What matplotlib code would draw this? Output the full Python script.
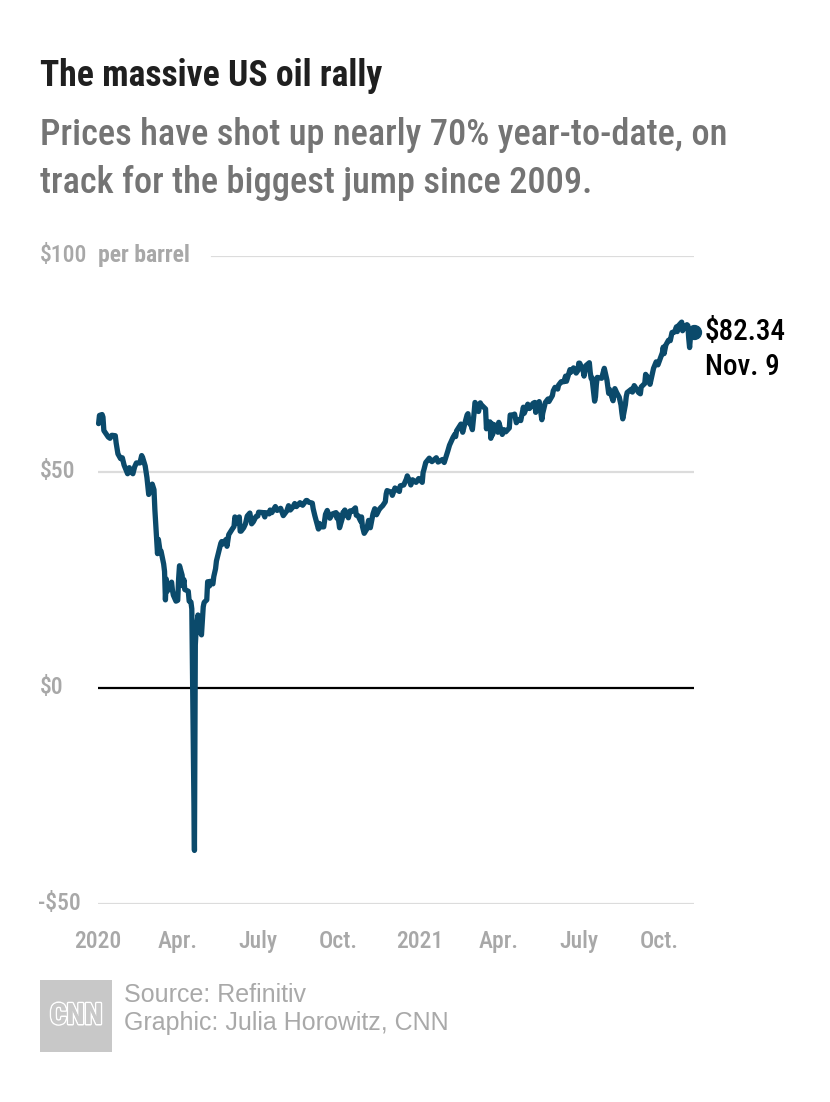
import matplotlib
matplotlib.use('Agg')
import matplotlib.pyplot as plt
import matplotlib.transforms as mtransforms
import matplotlib.patheffects as pe
from matplotlib import font_manager
import pandas as pd

def pick_font(names):
    have = set(f.name for f in font_manager.fontManager.ttflist)
    for n in names:
        if n in have:
            return n
    return 'DejaVu Sans'

COND = pick_font(['Liberation Sans Narrow', 'Roboto Condensed', 'Roboto'])
PLAIN = pick_font(['Liberation Sans', 'Noto Sans'])

title = "The massive US oil rally"
subtitle = ["Prices have shot up nearly 70% year-to-date, on",
            "track for the biggest jump since 2009."]
source_lines = ["Source: Refinitiv", "Graphic: Julia Horowitz, CNN"]

# WTI front month, $ per barrel
dates_2020 = ["2020-01-02","2020-01-03","2020-01-06","2020-01-07","2020-01-08","2020-01-10","2020-01-13","2020-01-15","2020-01-17",
              "2020-01-21","2020-01-22","2020-01-24","2020-01-27","2020-01-29","2020-01-31","2020-02-03","2020-02-04","2020-02-06",
              "2020-02-07","2020-02-10","2020-02-12","2020-02-14","2020-02-18","2020-02-20","2020-02-21","2020-02-24","2020-02-26",
              "2020-02-28","2020-03-02","2020-03-03","2020-03-05","2020-03-06","2020-03-09","2020-03-10","2020-03-12","2020-03-13",
              "2020-03-16","2020-03-17","2020-03-18","2020-03-19","2020-03-20","2020-03-23","2020-03-25","2020-03-26","2020-03-27",
              "2020-03-30","2020-04-01","2020-04-02","2020-04-03","2020-04-06","2020-04-07","2020-04-08","2020-04-09","2020-04-13",
              "2020-04-14","2020-04-16","2020-04-17","2020-04-20","2020-04-21","2020-04-22","2020-04-24","2020-04-27","2020-04-28",
              "2020-04-30","2020-05-01","2020-05-04","2020-05-05","2020-05-07","2020-05-08","2020-05-11","2020-05-12","2020-05-14",
              "2020-05-15","2020-05-18","2020-05-20","2020-05-21","2020-05-22","2020-05-26","2020-05-27","2020-05-29","2020-06-02",
              "2020-06-04","2020-06-05","2020-06-08","2020-06-10","2020-06-11","2020-06-12","2020-06-15","2020-06-17","2020-06-19",
              "2020-06-22","2020-06-24","2020-06-26","2020-06-29","2020-07-01","2020-07-02","2020-07-07","2020-07-09","2020-07-10",
              "2020-07-14","2020-07-15","2020-07-17","2020-07-21","2020-07-23","2020-07-27","2020-07-30","2020-08-03","2020-08-05",
              "2020-08-07","2020-08-10","2020-08-12","2020-08-14","2020-08-18","2020-08-21","2020-08-25","2020-08-26","2020-08-28",
              "2020-09-01","2020-09-02","2020-09-04","2020-09-08","2020-09-09","2020-09-11","2020-09-14","2020-09-16","2020-09-18",
              "2020-09-21","2020-09-24","2020-09-28","2020-09-29","2020-09-30","2020-10-02","2020-10-05","2020-10-06","2020-10-07",
              "2020-10-08","2020-10-12","2020-10-14","2020-10-16","2020-10-20","2020-10-21","2020-10-23","2020-10-26","2020-10-27",
              "2020-10-28","2020-10-30","2020-11-02","2020-11-04","2020-11-06","2020-11-09","2020-11-11","2020-11-13","2020-11-16",
              "2020-11-18","2020-11-20","2020-11-23","2020-11-24","2020-11-25","2020-11-30","2020-12-01","2020-12-04","2020-12-07",
              "2020-12-09","2020-12-10","2020-12-14","2020-12-17","2020-12-18","2020-12-21","2020-12-22","2020-12-24","2020-12-28",
              "2020-12-31"]
oil_2020 = [61.2, 63.1, 63.3, 62.7, 59.6, 59.0, 58.1, 57.8, 58.5,
            58.4, 56.7, 54.2, 53.1, 53.3, 51.6, 50.1, 49.6, 51.0,
            50.3, 49.6, 51.2, 52.1, 52.1, 53.8, 53.4, 51.4, 48.7,
            44.8, 46.8, 47.2, 45.9, 41.3, 31.1, 34.4, 31.5, 31.7,
            28.7, 27.0, 20.4, 25.2, 22.4, 23.4, 24.5, 22.6, 21.5,
            20.1, 20.3, 25.3, 28.3, 26.1, 23.6, 25.1, 22.8, 22.4,
            20.1, 19.9, 18.3, -37.6, 10.0, 13.8, 16.9, 12.8, 12.3,
            18.8, 19.8, 20.4, 24.6, 23.6, 24.7, 24.1, 25.8, 27.6,
            29.4, 31.8, 33.5, 33.9, 33.3, 34.4, 32.8, 35.5, 36.8,
            37.4, 39.6, 38.2, 39.6, 36.3, 36.3, 37.1, 38.0, 39.8,
            40.5, 38.0, 38.5, 39.7, 39.8, 40.7, 40.6, 39.6, 40.6,
            40.3, 41.2, 40.6, 42.0, 41.1, 41.6, 39.9, 41.0, 42.2,
            41.2, 41.9, 42.7, 42.0, 42.9, 42.3, 43.4, 43.4, 43.0,
            42.8, 41.5, 39.8, 36.8, 38.1, 37.3, 37.3, 40.2, 41.1,
            39.3, 40.3, 40.6, 39.3, 40.2, 37.1, 39.2, 40.7, 40.0,
            41.2, 39.4, 41.0, 40.9, 41.7, 40.0, 39.9, 38.6, 39.6,
            37.4, 35.8, 36.8, 38.8, 37.1, 40.3, 41.5, 40.1, 41.3,
            41.8, 42.2, 43.1, 44.9, 45.7, 45.3, 44.6, 46.3, 45.8,
            45.5, 46.8, 47.0, 48.4, 49.1, 47.7, 47.0, 48.2, 47.6,
            48.5]

dates_2021 = ["2021-01-04","2021-01-05","2021-01-06","2021-01-08","2021-01-12","2021-01-13","2021-01-15","2021-01-20","2021-01-22",
              "2021-01-27","2021-01-29","2021-02-02","2021-02-04","2021-02-08","2021-02-10","2021-02-11","2021-02-12","2021-02-17",
              "2021-02-19","2021-02-22","2021-02-24","2021-02-25","2021-02-26","2021-03-01","2021-03-02","2021-03-04","2021-03-05",
              "2021-03-08","2021-03-09","2021-03-11","2021-03-12","2021-03-16","2021-03-17","2021-03-18","2021-03-19","2021-03-22",
              "2021-03-23","2021-03-24","2021-03-25","2021-03-26","2021-03-30","2021-03-31","2021-04-01","2021-04-05","2021-04-07",
              "2021-04-09","2021-04-13","2021-04-14","2021-04-16","2021-04-19","2021-04-21","2021-04-23","2021-04-26","2021-04-28",
              "2021-04-29","2021-04-30","2021-05-04","2021-05-06","2021-05-10","2021-05-12","2021-05-13","2021-05-14","2021-05-17",
              "2021-05-19","2021-05-20","2021-05-21","2021-05-24","2021-05-27","2021-05-28","2021-06-01","2021-06-02","2021-06-04",
              "2021-06-07","2021-06-08","2021-06-11","2021-06-14","2021-06-16","2021-06-17","2021-06-21","2021-06-22","2021-06-25",
              "2021-06-28","2021-06-30","2021-07-01","2021-07-02","2021-07-06","2021-07-07","2021-07-09","2021-07-13","2021-07-14",
              "2021-07-15","2021-07-16","2021-07-19","2021-07-20","2021-07-21","2021-07-22","2021-07-27","2021-07-30","2021-08-02",
              "2021-08-04","2021-08-05","2021-08-06","2021-08-09","2021-08-11","2021-08-13","2021-08-16","2021-08-18","2021-08-19",
              "2021-08-20","2021-08-23","2021-08-24","2021-08-25","2021-08-30","2021-08-31","2021-09-02","2021-09-07","2021-09-09",
              "2021-09-10","2021-09-14","2021-09-15","2021-09-17","2021-09-20","2021-09-22","2021-09-24","2021-09-27","2021-09-29",
              "2021-10-01","2021-10-04","2021-10-05","2021-10-06","2021-10-08","2021-10-11","2021-10-13","2021-10-15","2021-10-18",
              "2021-10-20","2021-10-21","2021-10-22","2021-10-26","2021-10-27","2021-10-29","2021-11-01","2021-11-02","2021-11-03",
              "2021-11-04","2021-11-05","2021-11-08"]
oil_2021 = [47.6, 49.9, 50.6, 52.2, 53.2, 52.9, 52.4, 53.3, 52.3,
            52.9, 52.2, 54.8, 56.2, 58.0, 58.7, 58.2, 59.5, 61.1,
            59.2, 61.7, 63.2, 63.5, 61.5, 60.6, 59.8, 63.8, 66.1,
            65.1, 64.0, 66.0, 65.6, 64.8, 64.6, 60.0, 61.4, 61.6,
            57.8, 61.2, 58.6, 61.0, 60.6, 59.2, 61.5, 58.7, 59.8,
            59.3, 60.2, 63.2, 63.1, 63.4, 61.4, 62.1, 61.9, 63.9,
            65.0, 63.6, 65.7, 64.7, 65.9, 66.1, 63.8, 65.4, 66.3,
            63.4, 62.1, 63.6, 66.1, 66.9, 66.3, 67.7, 68.8, 69.6,
            69.2, 70.1, 70.9, 70.9, 72.2, 71.0, 73.7, 73.1, 74.1,
            72.9, 73.5, 75.2, 75.2, 73.4, 72.2, 74.6, 75.3, 73.1,
            71.7, 71.8, 66.4, 67.4, 70.3, 71.9, 71.7, 74.0, 71.3,
            68.2, 69.1, 68.3, 66.5, 69.3, 68.4, 67.3, 65.5, 63.7,
            62.3, 65.6, 67.5, 68.4, 69.2, 68.5, 70.0, 68.4, 68.1,
            69.7, 70.5, 72.6, 72.0, 70.3, 72.2, 74.0, 75.5, 74.8,
            75.9, 77.6, 78.9, 77.4, 79.4, 80.5, 80.4, 82.3, 82.4,
            83.6, 82.5, 83.8, 84.7, 82.7, 83.6, 84.1, 83.9, 80.9,
            78.8, 81.3, 81.9]

last_date = "2021-11-09"
last_price = 82.34
last_labels = ["$82.34", "Nov. 9"]

y_ticks = [100, 50, 0, -50]
y_labels = ["$100", "$50", "$0", "-$50"]
x_ticks = ["2020-01-01", "2020-04-01", "2020-07-01", "2020-10-01",
           "2021-01-01", "2021-04-01", "2021-07-01", "2021-10-01"]
x_labels = ["2020", "Apr.", "July", "Oct.", "2021", "Apr.", "July", "Oct."]

dates = pd.to_datetime(dates_2020 + dates_2021 + [last_date])
prices = oil_2020 + oil_2021 + [last_price]

W, H = 830, 1102
fig = plt.figure(figsize=(W / 100, H / 100), dpi=100)
fig.patch.set_facecolor('white')

def fx(px):
    return px / W

def fy(py):
    return 1 - py / H

# plot area: x 97.7..694 px, y 256 ($100) .. 904 (-$50)
ax = fig.add_axes([fx(97.7), fy(904), fx(694) - fx(97.7), fy(256) - fy(904)])
ax.set_ylim(-50, 100)
ax.set_xlim(pd.Timestamp("2020-01-01"), pd.Timestamp(last_date))
for s in ax.spines.values():
    s.set_visible(False)
ax.set_yticks([])

grid_c = '#dcdcdc'
ax.axhline(100, xmin=(212 - 97.7) / (694 - 97.7), xmax=1, color=grid_c, lw=1.6, zorder=1)
ax.axhline(50, color=grid_c, lw=1.6, zorder=1)
ax.axhline(-50, color=grid_c, lw=1.6, zorder=1)
ax.axhline(0, color='black', lw=1.6, zorder=2)

line_c = '#0b4a6b'
ax.plot(dates, prices, color=line_c, lw=3.8, solid_joinstyle='round', solid_capstyle='round', zorder=3,
        clip_on=False)
ax.plot([pd.Timestamp(last_date)], [last_price], 'o', color=line_c, ms=10, zorder=4, clip_on=False)

lab_c = '#a8a8a8'
ax.set_xticks(pd.to_datetime(x_ticks))
ax.set_xticklabels(x_labels, fontfamily=COND, fontsize=17, color=lab_c, fontweight='medium')
ax.tick_params(axis='x', length=0, pad=19)

ytr = mtransforms.blended_transform_factory(fig.transFigure, ax.transData)
for v, lab in zip(y_ticks, y_labels):
    ax.text(fx(40) if v >= 0 else fx(38), v, lab, transform=ytr, ha='left', va='center',
            fontfamily=COND, fontsize=17, color=lab_c, fontweight='medium')
ax.text(fx(98), 100, "per barrel", transform=ytr, ha='left', va='center',
        fontfamily=COND, fontsize=17, color=lab_c, fontweight='bold')

# end label
ax.annotate(last_labels[0], (pd.Timestamp(last_date), last_price), xytext=(8, 0),
            textcoords='offset points', ha='left', va='center', fontfamily=COND, fontsize=21,
            color='black', fontweight='medium', annotation_clip=False)
ax.annotate(last_labels[1], (pd.Timestamp(last_date), last_price), xytext=(8, -25),
            textcoords='offset points', ha='left', va='center', fontfamily=COND, fontsize=21,
            color='black', fontweight='medium', annotation_clip=False)

fig.text(fx(40), fy(76), title, ha='left', va='center', fontfamily=COND, fontweight='heavy',
         fontsize=25.7, color='#1f1f1f')
fig.text(fx(40), fy(135), subtitle[0], ha='left', va='center', fontfamily=COND,
         fontsize=26.2, color='#747474', fontweight='medium')
fig.text(fx(40), fy(183), subtitle[1], ha='left', va='center', fontfamily=COND,
         fontsize=26.2, color='#747474', fontweight='medium')

# CNN logo block
logo = fig.add_axes([fx(40), fy(1052), fx(112) - fx(40), fy(980) - fy(1052)])
logo.set_facecolor('#c8c8c8')
logo.set_xticks([])
logo.set_yticks([])
for s in logo.spines.values():
    s.set_visible(False)
logo.text(0.5, 0.5, "CNN", ha='center', va='center', fontfamily=COND, fontweight='bold',
          fontsize=21, color='#c8c8c8', transform=logo.transAxes,
          path_effects=[pe.withStroke(linewidth=2.2, foreground='white'), pe.Normal()])

fig.text(fx(124), fy(995), source_lines[0], ha='left', va='center', fontfamily=PLAIN,
         fontsize=18, color='#a9a9a9')
fig.text(fx(124), fy(1023), source_lines[1], ha='left', va='center', fontfamily=PLAIN,
         fontsize=18, color='#a9a9a9')

fig.savefig('out.png', dpi=100, facecolor='white')
